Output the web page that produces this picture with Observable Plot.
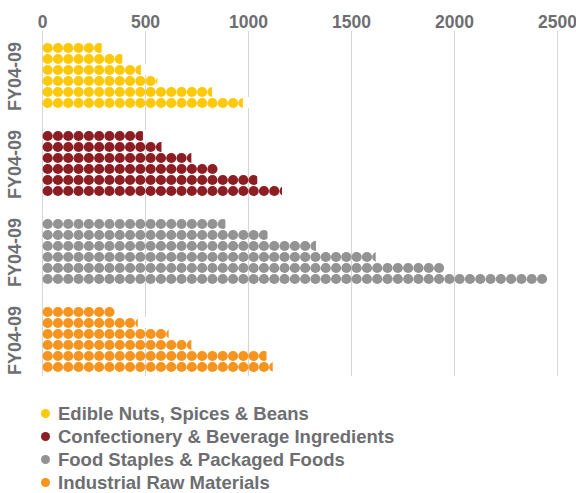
<!DOCTYPE html>
<html>
<head>
<meta charset="utf-8">
<script src="https://cdn.jsdelivr.net/npm/d3@7"></script>
<script src="https://cdn.jsdelivr.net/npm/@observablehq/plot@0.6"></script>
<style>
  html, body { margin: 0; padding: 0; background: #fff; }
  #chart { width: 576px; }
  .legend { padding: 12px 0 0 41px; font: bold 18.5px "Liberation Sans", Arial, sans-serif; color: #6d6e71; }
  .legend .item { display: flex; align-items: center; height: 23px; white-space: nowrap; }
  .legend .sw { width: 9px; height: 9px; border-radius: 50%; margin-right: 8px; flex: none; }
</style>
</head>
<body>
<div id="chart"></div>
<script>
// Fiscal years shown in each block (top row = FY04)
const years = ["FY04", "FY05", "FY06", "FY07", "FY08", "FY09"];
const categories = [
  "Edible Nuts, Spices & Beans",
  "Confectionery & Beverage Ingredients",
  "Food Staples & Packaged Foods",
  "Industrial Raw Materials"
];
// Values per year, FY04 … FY09
const edibleNuts    = [290, 390, 480, 560, 825, 975];
const confectionery = [490, 580, 725, 850, 1045, 1165];
const foodStaples   = [890, 1095, 1330, 1620, 1950, 2450];
const industrialRaw = [350, 465, 615, 725, 1090, 1120];
const seriesValues = [edibleNuts, confectionery, foodStaples, industrialRaw];
const colors = ["#ffc907", "#8c1d22", "#939393", "#f7941d"];
const xTicks = [0, 500, 1000, 1500, 2000, 2500];
const groupLabel = "FY04-09";
const unit = 50; // value represented by one dot

const textColor = "#6d6e71";
const gridColor = "#d6d6d6";

// Layout
const width = 576, height = 390;
const marginTop = 38, marginBottom = 14, marginLeft = 42, marginRight = 19;
const fyPadding = 0.188;
const fyStep = (height - marginTop - marginBottom) / (categories.length - fyPadding);
const groupGap = fyPadding * fyStep;
const groupBand = fyStep - groupGap;

// One row per category × year
const rows = categories.flatMap((category, c) =>
  years.map((year, i) => ({category, year, value: seriesValues[c][i]}))
);
// One dot per unit, centred in its unit slot
const dots = rows.flatMap(r =>
  d3.range(Math.ceil(r.value / unit)).map(k => ({category: r.category, year: r.year, mid: unit * k + unit / 2}))
);
// White covers that trim the last dot of a row to the exact value
const trims = rows
  .filter(r => r.value % unit !== 0)
  .map(r => ({category: r.category, year: r.year, x1: r.value, x2: Math.ceil(r.value / unit) * unit + unit / 2}));

// Vertical grid lines, drawn per block and stretched across the gaps between blocks
const gridCells = categories.flatMap((category, c) => xTicks.map(tick => ({category, c, tick})));
const last = categories.length - 1;

const chart = Plot.plot({
  width, height, marginTop, marginBottom, marginLeft, marginRight,
  style: {fontFamily: "'Liberation Sans', Arial, sans-serif", fontSize: "17.5px", fontWeight: "bold", color: textColor, background: "#fff"},
  x: {domain: [0, 2500], axis: "top", ticks: xTicks, tickFormat: d => `${d}`, tickSize: 0, tickPadding: 12, label: null},
  y: {domain: years, axis: null, padding: 0},
  fy: {domain: categories, axis: null, paddingInner: fyPadding, paddingOuter: 0},
  color: {domain: categories, range: colors},
  marks: [
    Plot.ruleX(gridCells.filter(d => d.c === 0), {x: "tick", fy: "category", stroke: gridColor, insetTop: -8}),
    Plot.ruleX(gridCells.filter(d => d.c < last), {x: "tick", fy: "category", stroke: gridColor, insetBottom: -groupGap - 0.5}),
    Plot.ruleX(gridCells.filter(d => d.c === last), {x: "tick", fy: "category", stroke: gridColor, insetBottom: -2}),
    Plot.dot(dots, {x: "mid", y: "year", fy: "category", r: 5.1, fill: "category", stroke: null}),
    Plot.barX(trims, {x1: "x1", x2: "x2", y: "year", fy: "category", fill: "#fff"}),
    Plot.text(categories, {fy: d => d, text: () => groupLabel, frameAnchor: "left", rotate: -90,
      dx: -27, dy: groupBand / 2, fontSize: 18, fontWeight: "bold", fill: textColor})
  ]
});
document.getElementById("chart").appendChild(chart);

// Legend below the chart
const legend = d3.select("#chart").append("div").attr("class", "legend");
const items = legend.selectAll("div.item").data(categories).join("div").attr("class", "item");
items.append("span").attr("class", "sw").style("background", (d, i) => colors[i]);
items.append("span").text(d => d);
</script>
</body>
</html>
